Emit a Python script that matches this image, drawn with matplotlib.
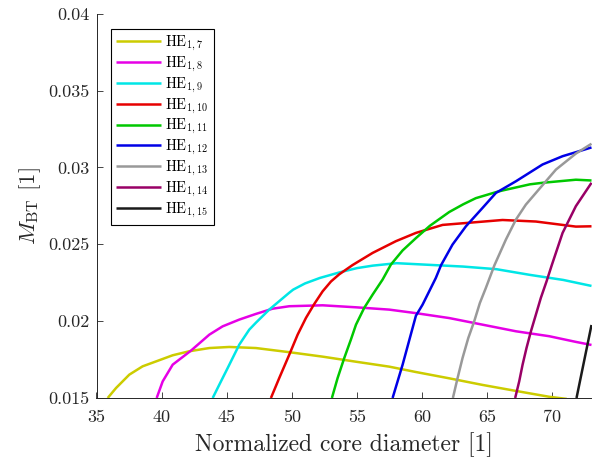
import matplotlib
matplotlib.use("Agg")
import matplotlib.pyplot as plt

plt.rcParams['font.family'] = 'serif'
plt.rcParams['font.serif'] = ['cmr10']
plt.rcParams['mathtext.fontset'] = 'cm'
plt.rcParams['axes.formatter.use_mathtext'] = True

labels = [r'$\mathrm{HE}_{1,7}$', r'$\mathrm{HE}_{1,8}$', r'$\mathrm{HE}_{1,9}$',
          r'$\mathrm{HE}_{1,10}$', r'$\mathrm{HE}_{1,11}$', r'$\mathrm{HE}_{1,12}$',
          r'$\mathrm{HE}_{1,13}$', r'$\mathrm{HE}_{1,14}$', r'$\mathrm{HE}_{1,15}$']
colors = ['#cccc00', '#e600e6', '#00e6e6', '#e60000', '#00c800', '#0000e6',
          '#999999', '#990066', '#1a1a1a']

he17_x = [35.86, 36.50, 37.52, 38.54, 39.57, 40.85, 42.12, 43.66, 45.19, 47.24, 49.8, 52.36, 54.92, 57.47, 59.52, 62.08, 64.64, 67.2, 69.75, 71.1]
he17_y = [0.0150, 0.01565, 0.01652, 0.01706, 0.01738, 0.01778, 0.01804, 0.01825, 0.01832, 0.01825, 0.01798, 0.01769, 0.01736, 0.01704, 0.01669, 0.01628, 0.01585, 0.01546, 0.01508, 0.01494]

he18_x = [39.62, 40.08, 40.85, 42.25, 43.66, 44.68, 45.96, 47.24, 48.52, 49.8, 52.36, 54.92, 57.47, 59.52, 62.08, 64.64, 67.2, 69.75, 71.8, 73.0]
he18_y = [0.015, 0.01608, 0.01717, 0.01808, 0.01912, 0.01966, 0.0201, 0.02047, 0.02081, 0.02097, 0.02103, 0.0209, 0.02075, 0.02052, 0.0202, 0.01977, 0.01934, 0.01902, 0.01865, 0.01845]

he19_x = [43.92, 44.43, 45.07, 45.96, 46.73, 47.24, 48.26, 49.8, 50.1, 51.0, 52.15, 53.69, 55.0, 56.2, 58.04, 60.6, 63.15, 65.7, 68.27, 70.83, 73.0]
he19_y = [0.015, 0.01587, 0.01695, 0.01847, 0.01945, 0.0199, 0.02075, 0.02185, 0.02205, 0.02245, 0.02281, 0.02318, 0.02345, 0.02361, 0.02377, 0.02366, 0.02355, 0.02338, 0.02301, 0.02268, 0.02229]

he110_x = [48.39, 49.03, 49.80, 50.44, 51.08, 51.72, 52.36, 53.0, 53.64, 54.66, 56.2, 57.98, 59.52, 61.57, 63.6, 66.17, 68.73, 71.8, 73.0]
he110_y = [0.015, 0.0163, 0.01782, 0.01912, 0.02021, 0.02112, 0.02194, 0.02258, 0.02305, 0.02365, 0.02444, 0.0252, 0.02574, 0.02626, 0.0264, 0.02658, 0.02648, 0.02615, 0.02617]

he111_x = [53.07, 53.51, 54.02, 54.53, 54.92, 55.55, 56.2, 56.96, 57.6, 58.5, 59.52, 60.59, 62.08, 63.15, 64.12, 65.7, 66.17, 68.27, 69.24, 71.8, 73.0]
he111_y = [0.015, 0.0163, 0.0176, 0.0188, 0.01977, 0.02086, 0.02173, 0.0227, 0.02368, 0.0246, 0.0254, 0.0262, 0.0271, 0.0276, 0.0280, 0.0284, 0.0285, 0.0289, 0.0290, 0.0292, 0.02915]

he112_x = [57.73, 58.50, 59.52, 60.03, 60.54, 61.05, 61.45, 62.33, 63.36, 64.64, 65.66, 67.2, 69.24, 70.78, 71.8, 73.0]
he112_y = [0.015, 0.01717, 0.02035, 0.02107, 0.02194, 0.02281, 0.02364, 0.02498, 0.02617, 0.02737, 0.02834, 0.0291, 0.03019, 0.03073, 0.03099, 0.0313]

he113_x = [62.36, 62.72, 63.10, 63.54, 64.0, 64.43, 64.89, 65.55, 66.43, 67.2, 67.96, 68.73, 70.27, 71.8, 73.0]
he113_y = [0.015, 0.0163, 0.0176, 0.0189, 0.02, 0.02118, 0.02216, 0.02364, 0.02531, 0.02661, 0.02758, 0.02834, 0.02986, 0.0309, 0.03154]

he114_x = [67.14, 67.45, 67.71, 68.01, 68.35, 68.73, 69.11, 69.55, 69.95, 70.78, 71.8, 73.0]
he114_y = [0.015, 0.01608, 0.01717, 0.01825, 0.01934, 0.02042, 0.02151, 0.02259, 0.02364, 0.02574, 0.02748, 0.029]

he115_x = [71.85, 73.0]
he115_y = [0.015, 0.01975]

xs = [he17_x, he18_x, he19_x, he110_x, he111_x, he112_x, he113_x, he114_x, he115_x]
ys = [he17_y, he18_y, he19_y, he110_y, he111_y, he112_y, he113_y, he114_y, he115_y]

xticks = [35, 40, 45, 50, 55, 60, 65, 70]
yticks = [0.015, 0.02, 0.025, 0.03, 0.035, 0.04]
ytick_labels = ['0.015', '0.02', '0.025', '0.03', '0.035', '0.04']

fig = plt.figure(figsize=(6.05, 4.59), dpi=100)
ax = fig.add_axes([96.5 / 605, 61 / 459, 495 / 605, 384.3 / 459])

for x, y, c, l in zip(xs, ys, colors, labels):
    ax.plot(x, y, color=c, lw=1.8, label=l, solid_capstyle='butt',
            solid_joinstyle='round')

ax.set_xlim(35, 73)
ax.set_ylim(0.015, 0.04)
ax.set_xticks(xticks)
ax.set_xticklabels([str(t) for t in xticks])
ax.set_yticks(yticks)
ax.set_yticklabels(ytick_labels)
ax.tick_params(direction='in', length=4, width=0.6, labelsize=13,
               colors='#262626')
ax.tick_params(axis='x', pad=8.5)
ax.tick_params(axis='y', pad=5)
for s in ['top', 'right']:
    ax.spines[s].set_visible(False)
for s in ['left', 'bottom']:
    ax.spines[s].set_color('#262626')
    ax.spines[s].set_linewidth(0.7)

ax.set_xlabel('Normalized core diameter [1]', fontsize=17, color='#262626', labelpad=5)
ax.set_ylabel(r'$M_{\mathrm{BT}}$ [1]', fontsize=16.5, color='#262626', labelpad=4)

leg = ax.legend(loc='upper left', bbox_to_anchor=(0.0287, 0.960), borderaxespad=0,
                fontsize=10.5, frameon=True, fancybox=False, framealpha=1,
                edgecolor='black', handlelength=3.1, handletextpad=0.3,
                labelspacing=0.12, borderpad=0.35)
leg.get_frame().set_linewidth(0.8)

fig.savefig('out.png', dpi=100)
